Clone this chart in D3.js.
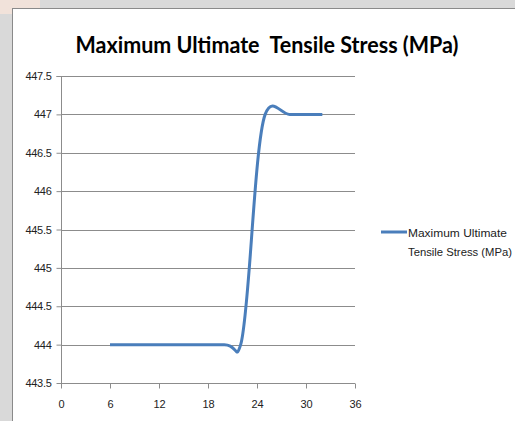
<!DOCTYPE html>
<html><head><meta charset="utf-8">
<script src="https://cdn.jsdelivr.net/npm/d3@7"></script>
<style>body{margin:0;background:#fff}svg{display:block}</style>
</head><body>
<script>
const title = "Maximum Ultimate  Tensile Stress (MPa)";
const seriesName = ["Maximum Ultimate", "Tensile Stress (MPa)"];
const xValues = [6, 20, 22, 25, 28, 32];
const yValues = [444, 444, 444, 447, 447, 447];
const xTicks = [0, 6, 12, 18, 24, 30, 36];
const yTicks = [443.5, 444, 444.5, 445, 445.5, 446, 446.5, 447, 447.5];

const W = 515, H = 421;
const svg = d3.select("body").append("svg").attr("width", W).attr("height", H);

// surrounding background
svg.append("rect").attr("x",0).attr("y",0).attr("width",W).attr("height",H).attr("fill","#d9d9d9");
svg.append("rect").attr("x",0).attr("y",0).attr("width",40).attr("height",14).attr("fill","#f6e3da").attr("opacity",0.8);
svg.append("rect").attr("x",12.5).attr("y",8.5).attr("width",W).attr("height",H).attr("fill","#fff").attr("stroke","#8a8a8a");

const x = d3.scaleLinear().domain([0,36]).range([61,355]);
const y = d3.scaleLinear().domain([443.5,447.5]).range([383,76]);

// gridlines
svg.append("g").selectAll("line").data(yTicks.slice(1)).join("line")
  .attr("x1",61).attr("x2",355).attr("y1",d=>Math.round(y(d))+0.5).attr("y2",d=>Math.round(y(d))+0.5)
  .attr("stroke","#8c8c8c").attr("stroke-width",1);

const font = "'Liberation Sans', Arial, sans-serif";

// y axis
const yAxis = svg.append("g").attr("transform","translate(61.5,0)")
  .call(d3.axisLeft(y).tickValues(yTicks).tickSize(5).tickPadding(5).tickFormat(d=>d3.format("")(d)));
yAxis.select(".domain").attr("stroke","#8c8c8c").attr("d", `M-5,${y(447.5)+0.5}H0V${y(443.5)+0.5}`);
yAxis.selectAll(".tick line").attr("stroke","#8c8c8c");
yAxis.selectAll(".tick text").attr("fill","#222").style("font-family",font).style("font-size","11px").attr("letter-spacing","-0.3");

// x axis
const xAxis = svg.append("g").attr("transform",`translate(0,${Math.round(y(443.5))+0.5})`)
  .call(d3.axisBottom(x).tickValues(xTicks).tickSize(5).tickPadding(12));
xAxis.select(".domain").attr("stroke","#8c8c8c").attr("d", `M${x(0)},0H${x(36)}`);
xAxis.selectAll(".tick line").attr("stroke","#8c8c8c");
xAxis.selectAll(".tick text").attr("fill","#222").style("font-family",font).style("font-size","11px");

// series line
const data = xValues.map((v,i)=>[v,yValues[i]]);
svg.append("path").datum(data)
  .attr("d", d3.line().x(d=>x(d[0])).y(d=>y(d[1])).curve(d3.curveCatmullRom.alpha(0.2)))
  .attr("fill","none").attr("stroke","#4a7ebb").attr("stroke-width",3).attr("stroke-linecap","butt");

// title
svg.append("text").attr("x",267).attr("y",53).attr("text-anchor","middle")
  .attr("textLength",383).attr("lengthAdjust","spacingAndGlyphs")
  .style("font-family","Lato, 'Open Sans', sans-serif").style("font-weight","bold").style("font-size","23px")
  .attr("fill","#000").attr("xml:space","preserve").text(title);

// legend
svg.append("line").attr("x1",381).attr("x2",407).attr("y1",232).attr("y2",232)
  .attr("stroke","#4a7ebb").attr("stroke-width",3);
svg.append("g").selectAll("text").data(seriesName).join("text")
  .attr("x",408).attr("y",(d,i)=>237+i*19)
  .attr("textLength",(d,i)=>i===0?99:104).attr("lengthAdjust","spacingAndGlyphs")
  .style("font-family",font).style("font-size","11.5px").attr("fill","#222").text(d=>d);
</script>
</body></html>
